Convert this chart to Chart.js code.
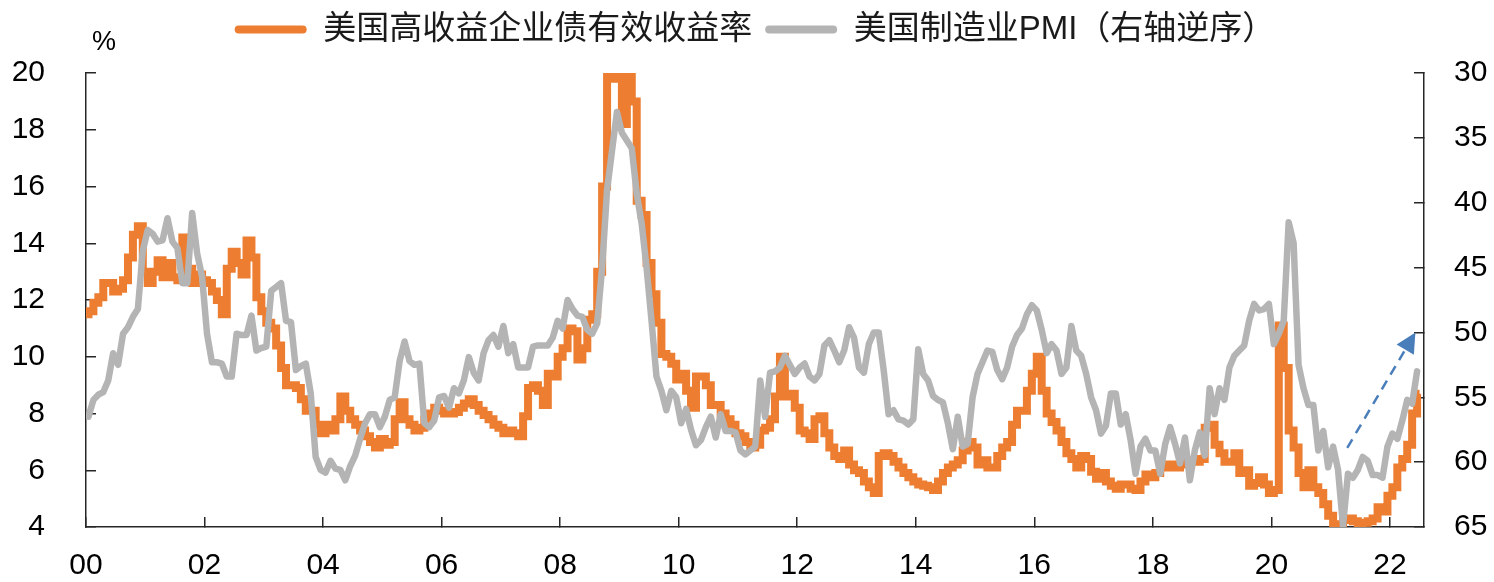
<html>
<head>
    <meta charset="utf-8">
    <script src="https://cdn.jsdelivr.net/npm/chart.js@4.4.1/dist/chart.umd.min.js"></script>
    <style>
        html, body { margin: 0; padding: 0; background: #fff; overflow: hidden; }
        #wrap { position: relative; width: 1494px; height: 582px; }
        #yieldChart { display: block; }
    </style>
</head>
<body>
<div id="wrap">
    <canvas id="yieldChart"></canvas>
</div>

<script type="text/javascript">
    // monthly series, first value = Jan 2000
    const startYear = 2000;

    // 美国高收益企业债有效收益率, %
    const hyYield = [
        11.5, 11.6, 11.9, 12.1, 12.6, 12.6, 12.3, 12.4, 12.7, 13.5, 14.3, 14.6,   // 2000
        13.0, 12.6, 13.0, 13.4, 12.8, 13.3, 12.8, 12.7, 14.2, 13.1, 12.6, 12.9,   // 2001
        12.7, 12.6, 12.3, 12.0, 11.5, 13.1, 13.7, 13.3, 12.9, 14.1, 13.5, 12.1,   // 2002
        11.6, 11.2, 11.0, 10.4, 9.6, 9.0, 9.0, 8.9, 8.5, 8.1, 8.1, 7.6,           // 2003
        7.3, 7.6, 7.4, 7.8, 8.6, 8.1, 7.8, 7.6, 7.4, 7.2, 7.0, 6.8,               // 2004
        7.1, 6.9, 7.0, 7.8, 8.4, 7.8, 7.6, 7.4, 7.5, 7.8, 8.0, 8.2,               // 2005
        8.1, 8.0, 8.0, 8.05, 8.2, 8.35, 8.5, 8.3, 8.1, 7.95, 7.8, 7.6,            // 2006
        7.5, 7.3, 7.4, 7.3, 7.2, 7.9, 8.9, 9.0, 8.8, 8.3, 9.4, 9.3,               // 2007
        10.0, 10.3, 11.0, 10.9, 9.9, 10.3, 11.3, 11.5, 13.0, 16.0, 20.5, 19.8,    // 2008
        21.0, 18.2, 20.3, 19.0, 15.5, 15.0, 13.3, 12.2, 11.2, 10.1, 10.0, 9.75,   // 2009
        9.2, 9.4, 8.8, 8.2, 9.3, 9.3, 9.0, 8.3, 8.3, 8.0, 7.8, 7.6,               // 2010
        7.3, 7.2, 7.0, 6.8, 6.9, 7.4, 7.5, 7.8, 8.6, 10.0, 8.6, 8.7,              // 2011
        8.2, 7.4, 7.3, 7.1, 7.8, 7.9, 7.3, 6.8, 6.5, 6.4, 6.7, 6.2,               // 2012
        6.0, 5.9, 5.6, 5.4, 5.2, 6.5, 6.6, 6.5, 6.3, 6.1, 5.9, 5.75,              // 2013
        5.6, 5.5, 5.45, 5.4, 5.3, 5.6, 5.9, 6.1, 6.2, 6.35, 6.7, 7.0,             // 2014
        6.8, 6.2, 6.35, 6.1, 6.1, 6.5, 6.8, 7.0, 7.6, 8.1, 8.1, 8.8,              // 2015
        9.4, 10.0, 8.8, 8.0, 7.7, 7.4, 7.0, 6.6, 6.4, 6.1, 6.5, 6.4,              // 2016
        5.95, 5.7, 5.9, 5.6, 5.45, 5.35, 5.5, 5.5, 5.35, 5.3, 5.6, 5.85,          // 2017
        5.75, 5.9, 6.2, 6.1, 6.2, 6.1, 6.2, 6.3, 6.35, 6.3, 6.4, 7.5,             // 2018
        7.6, 6.9, 6.6, 6.3, 6.3, 6.6, 5.9, 6.0, 5.45, 5.55, 5.75, 5.5,            // 2019
        5.2, 5.3, 11.1, 9.6, 7.4, 6.8, 5.9, 5.4, 6.0, 5.4, 5.2, 4.8,              // 2020
        4.4, 4.1, 4.0, 4.25, 4.3, 4.2, 4.1, 4.15, 4.2, 4.3, 4.7, 4.55,            // 2021
        5.1, 5.4, 6.1, 6.4, 6.9, 8.0, 8.7                                         // 2022
    ];

    // 美国制造业PMI (right axis, reversed)
    const pmiIndex = [
        56.5, 55.2, 54.8, 54.6, 53.7, 51.6, 52.5, 50.1, 49.6, 48.8, 48.2, 43.7,   // 2000
        42.1, 42.4, 43.0, 42.9, 41.2, 43.0, 43.5, 46.2, 46.2, 40.8, 43.9, 45.7,   // 2001
        50.1, 52.3, 52.3, 52.4, 53.4, 53.4, 50.1, 50.2, 50.2, 48.7, 51.4, 51.2,   // 2002
        51.1, 46.8, 46.5, 46.2, 49.1, 49.2, 52.9, 52.6, 52.4, 54.7, 59.6, 60.6,   // 2003
        60.8, 59.9, 60.5, 60.6, 61.4, 60.3, 59.5, 58.2, 57.0, 56.3, 56.3, 57.3,   // 2004
        56.5, 55.2, 55.0, 52.2, 50.7, 52.2, 52.5, 52.4, 57.0, 57.3, 56.8, 55.0,   // 2005
        54.9, 55.8, 54.3, 54.7, 53.7, 51.9, 53.1, 53.7, 51.6, 50.6, 50.2, 51.1,   // 2006
        49.5, 51.6, 50.9, 52.7, 52.7, 52.7, 51.1, 51.0, 51.0, 51.0, 50.4, 49.1,   // 2007
        49.7, 47.5, 48.2, 48.7, 48.8, 49.8, 50.1, 49.3, 45.0, 39.0, 36.0, 33.0,   // 2008
        34.6, 35.2, 35.8, 39.3, 41.6, 45.0, 49.1, 53.4, 54.5, 56.0, 54.5, 55.0,   // 2009
        57.0, 55.9, 57.5, 58.7, 58.3, 57.3, 56.5, 58.1, 56.3, 57.6, 57.6, 57.7,   // 2010
        59.1, 59.4, 59.1, 58.8, 53.7, 56.5, 53.1, 53.0, 52.7, 51.8, 52.5, 53.2,   // 2011
        52.7, 52.4, 53.4, 53.7, 53.2, 51.0, 50.6, 51.4, 52.3, 51.4, 49.6, 50.4,   // 2012
        52.7, 53.1, 50.9, 50.0, 50.0, 52.9, 56.3, 56.0, 56.7, 56.8, 57.1, 56.7,   // 2013
        51.3, 53.2, 53.7, 54.9, 55.2, 55.4, 57.0, 59.0, 56.5, 58.8, 58.6, 55.0,   // 2014
        53.2, 52.3, 51.4, 51.5, 52.9, 53.6, 52.7, 51.1, 50.2, 49.7, 48.6, 47.9,   // 2015
        48.3, 49.8, 51.6, 50.9, 51.4, 53.2, 52.7, 49.5, 51.4, 51.8, 53.2, 55.0,   // 2016
        56.0, 57.8, 57.2, 54.7, 54.7, 57.1, 56.3, 58.3, 60.9, 58.8, 58.2, 59.1,   // 2017
        59.1, 60.9, 58.6, 57.3, 58.6, 60.1, 58.1, 61.4, 59.1, 57.7, 59.5, 54.3,   // 2018
        56.3, 54.3, 55.2, 52.7, 51.8, 51.4, 51.0, 49.1, 47.8, 48.3, 48.2, 47.8,   // 2019
        50.9, 50.1, 49.1, 41.5, 43.1, 52.5, 54.3, 55.6, 55.6, 59.1, 57.6, 60.4,   // 2020
        58.8, 60.6, 64.9, 60.9, 61.2, 60.6, 59.6, 59.9, 61.0, 61.0, 61.2, 58.8,   // 2021
        57.8, 58.2, 56.8, 55.2, 55.5, 53.0                                        // 2022
    ];

    const yearLabels = ['00', '02', '04', '06', '08', '10', '12', '14', '16', '18', '20', '22'];

    // dashed trend arrow, [year, PMI] on the right axis
    const arrowFrom = [2021.28, 58.9];
    const arrowTo = [2022.43, 50.0];

    const orange = '#ED7D31';
    const grey = '#B4B4B4';
    const arrowBlue = '#4A7EBB';
    const axisColor = '#262626';
    const fontFamily = '"Liberation Sans", Arial, "Noto Sans CJK SC", sans-serif';

    // PMI is monthly, plotted mid-month
    const yieldPoints = hyYield.map((v, i) => ({ x: startYear + i / 12, y: v }));
    const pmiPoints = pmiIndex.map((v, i) => ({ x: startYear + (i + 0.5) / 12, y: v }));

    // legend sits higher than chart.js puts it, leave a gap under it
    const legendGap = {
        id: 'legendGap',
        afterInit(chart) {
            const legend = chart.legend;
            const fit = legend.fit;
            legend.fit = function () {
                fit.call(this);
                this.height += 17;
            };
        }
    };

    const extras = {
        id: 'extras',
        afterDatasetsDraw(chart) {
            const ctx = chart.ctx;
            const xs = chart.scales.x;
            const ys = chart.scales.y2;
            const x0 = xs.getPixelForValue(arrowFrom[0]);
            const y0 = ys.getPixelForValue(arrowFrom[1]);
            const x1 = xs.getPixelForValue(arrowTo[0]);
            const y1 = ys.getPixelForValue(arrowTo[1]);
            const a = Math.atan2(y1 - y0, x1 - x0);
            const headLen = 20, headW = 10;
            const bx = x1 - headLen * Math.cos(a);
            const by = y1 - headLen * Math.sin(a);

            ctx.save();
            ctx.strokeStyle = arrowBlue;
            ctx.fillStyle = arrowBlue;
            ctx.lineWidth = 2.5;
            ctx.setLineDash([10, 7]);
            ctx.beginPath();
            ctx.moveTo(x0, y0);
            ctx.lineTo(bx, by);
            ctx.stroke();
            ctx.setLineDash([]);
            ctx.beginPath();
            ctx.moveTo(x1, y1);
            ctx.lineTo(bx + headW * Math.sin(a), by - headW * Math.cos(a));
            ctx.lineTo(bx - headW * Math.sin(a), by + headW * Math.cos(a));
            ctx.closePath();
            ctx.fill();
            ctx.restore();
        },
        afterDraw(chart) {
            const ctx = chart.ctx;
            const area = chart.chartArea;
            ctx.save();
            ctx.fillStyle = '#000';
            ctx.font = '27px ' + fontFamily;
            ctx.textAlign = 'center';
            ctx.textBaseline = 'middle';
            ctx.fillText('%', area.left + 18, area.top - 30);
            ctx.restore();
        }
    };

    // fixed axis sizes; the big tick padding must not leak into the layout padding
    function fixSize(w, h) {
        return (s) => {
            if (w) s.width = w;
            if (h) s.height = h;
            s.paddingTop = 0;
            s.paddingBottom = 0;
            s.paddingLeft = 0;
            s.paddingRight = 0;
        };
    }

    const tickFont = { family: fontFamily, size: 30 };
    // inward tick marks: negative tick length
    const tickGrid = { drawOnChartArea: false, drawTicks: true, tickLength: -10, color: axisColor, lineWidth: 1.5 };
    const axisBorder = { display: true, color: axisColor, width: 1.5 };

    new Chart(document.getElementById('yieldChart'), {
        type: 'line',
        data: {
            datasets: [{
                label: '美国高收益企业债有效收益率',
                data: yieldPoints,
                yAxisID: 'y',
                borderColor: orange,
                backgroundColor: orange,
                borderWidth: 8,
                pointRadius: 0,
                stepped: 'middle',
                borderJoinStyle: 'miter',
                clip: 0,
                order: 1
            },
            {
                label: '美国制造业PMI（右轴逆序）',
                data: pmiPoints,
                yAxisID: 'y2',
                borderColor: grey,
                backgroundColor: grey,
                borderWidth: 6.5,
                pointRadius: 0,
                borderJoinStyle: 'round',
                borderCapStyle: 'round',
                clip: 0,
                order: 0
            }]
        },
        options: {
            responsive: true,
            maintainAspectRatio: false,
            animation: false,
            layout: { padding: 0 },
            scales: {
                x: {
                    type: 'linear',
                    min: 2000,
                    max: 2022.575,
                    afterFit: fixSize(0, 55),
                    ticks: {
                        stepSize: 2,
                        includeBounds: false,
                        autoSkip: false,
                        maxRotation: 0,
                        padding: 31,
                        color: '#000',
                        font: tickFont,
                        callback: (v) => yearLabels[Math.round((v - startYear) / 2)]
                    },
                    grid: tickGrid,
                    border: axisBorder
                },
                y: {
                    position: 'left',
                    min: 4,
                    max: 20,
                    afterFit: fixSize(86, 0),
                    ticks: { stepSize: 2, padding: 51, color: '#000', font: tickFont },
                    grid: tickGrid,
                    border: axisBorder
                },
                y2: {
                    position: 'right',
                    min: 30,
                    max: 65,
                    reverse: true,
                    afterFit: fixSize(70, 0),
                    ticks: { stepSize: 5, padding: 40, color: '#000', font: tickFont },
                    grid: tickGrid,
                    border: axisBorder
                }
            },
            plugins: {
                legend: {
                    position: 'top',
                    fullSize: false,
                    labels: {
                        boxWidth: 72,
                        boxHeight: 8,
                        useBorderRadius: true,
                        borderRadius: 4,
                        padding: 13,
                        color: '#1a1a1a',
                        font: { family: fontFamily, size: 33 },
                        sort: (a, b) => a.datasetIndex - b.datasetIndex,
                        generateLabels: (chart) => Chart.defaults.plugins.legend.labels.generateLabels(chart)
                            .map((item) => Object.assign(item, { lineWidth: 0, fillStyle: item.strokeStyle }))
                    }
                },
                tooltip: { enabled: false }
            }
        },
        plugins: [legendGap, extras]
    });
</script>

</body>
</html>
